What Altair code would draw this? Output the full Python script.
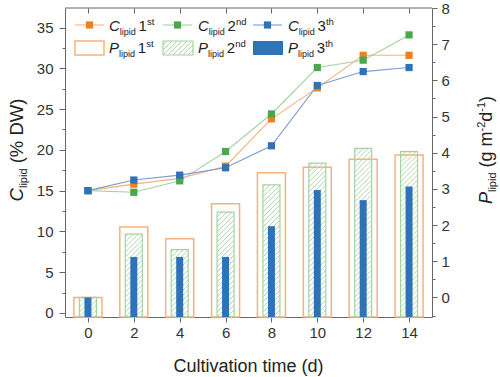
import altair as alt
import pandas as pd

# ---------------- data ----------------
days = [0, 2, 4, 6, 8, 10, 12, 14]
c_lipid_1st = [15.0, 15.8, 16.5, 18.0, 23.8, 27.6, 31.6, 31.6]
c_lipid_2nd = [15.0, 14.8, 16.2, 19.8, 24.4, 30.1, 31.0, 34.1]
c_lipid_3th = [15.0, 16.3, 16.9, 17.8, 20.5, 27.9, 29.6, 30.1]
p_lipid_1st = [0.0, 1.95, 1.62, 2.59, 3.45, 3.60, 3.82, 3.94]
p_lipid_2nd = [0.0, 1.75, 1.32, 2.36, 3.11, 3.71, 4.12, 4.03]
p_lipid_3th = [0.0, 1.12, 1.12, 1.12, 1.97, 2.97, 2.69, 3.07]
x_tick_values = [0, 2, 4, 6, 8, 10, 12, 14]
left_major_ticks = [0, 5, 10, 15, 20, 25, 30, 35]
left_minor_ticks = [2.5, 7.5, 12.5, 17.5, 22.5, 27.5, 32.5]
right_major_ticks = [0, 1, 2, 3, 4, 5, 6, 7, 8]
right_minor_ticks = [-0.5, 0.5, 1.5, 2.5, 3.5, 4.5, 5.5, 6.5, 7.5]

df = pd.DataFrame({
    "day": days,
    "C1": c_lipid_1st, "C2": c_lipid_2nd, "C3": c_lipid_3th,
    "P1": p_lipid_1st, "P2": p_lipid_2nd, "P3": p_lipid_3th,
})
one = pd.DataFrame({"v": [0]})

# ---------------- layout / style ----------------
W, H = 367, 309
PL, PT = 65, 8
X_DOM = [-1, 15]
YL_DOM = [-0.5, 37.4]
YR_DOM = [-0.54, 8.0]
SX = W / (X_DOM[1] - X_DOM[0])
SY = H / (YR_DOM[1] - YR_DOM[0])

FONT = "Liberation Sans"
AX = "#666666"
LBL = "#333333"
TTL = "#222222"
ORANGE, ORANGE_L = "#f07f22", "#f6b27c"
GREEN, GREEN_L = "#4aa84a", "#a3d4a0"
BLUE, BLUE_L = "#2e72b8", "#7d9ccb"

BW1, BW2, BW3 = 28, 17, 7
HATCH_STEP = 5

xs = alt.Scale(domain=X_DOM, nice=False, zero=False, padding=0)
yls = alt.Scale(domain=YL_DOM, nice=False, zero=False, padding=0)
yrs = alt.Scale(domain=YR_DOM, nice=False, zero=False, padding=0)

# ---------------- axes ----------------
x_bottom_axis = alt.Axis(orient="bottom", values=x_tick_values, title=None, grid=False,
                         tickSize=5, tickColor=AX, domainColor=AX, labelFontSize=15,
                         labelFont=FONT, labelColor=LBL, labelPadding=3, labelFlush=False)
x_top_axis = alt.Axis(orient="top", values=x_tick_values, title=None, grid=False, labels=False,
                      domain=False, tickSize=5, tickColor=AX, offset=-5)
y_right_axis = alt.Axis(orient="right", values=right_major_ticks, title=None, grid=False,
                        tickSize=5, tickColor=AX, domainColor=AX, labelFontSize=15,
                        labelFont=FONT, labelColor=LBL, labelPadding=4)
y_left_axis = alt.Axis(orient="left", values=left_major_ticks, title=None, grid=False,
                       tickSize=6, tickColor=AX, domainColor=AX, labelFontSize=15,
                       labelFont=FONT, labelColor=LBL, labelPadding=6)
y_left_minor = alt.Axis(orient="left", values=left_minor_ticks, labels=False, domain=False,
                        grid=False, title=None, tickSize=3, tickColor=AX)
y_right_minor = alt.Axis(orient="right", values=right_minor_ticks, labels=False, domain=False,
                         grid=False, title=None, tickSize=3, tickColor=AX)

# ---------------- bars (P_lipid, right axis) ----------------
bar1 = alt.Chart(df).mark_bar(size=BW1, filled=False, stroke=ORANGE_L, strokeWidth=1.5,
                              orient="vertical").encode(
    x=alt.X("day:Q", scale=xs, axis=x_bottom_axis),
    y=alt.Y("P1:Q", scale=yrs, axis=y_right_axis, stack=None),
    y2=alt.value(H),
)
bar2 = alt.Chart(df).mark_bar(size=BW2, filled=False, stroke=GREEN_L, strokeWidth=1.2,
                              orient="vertical").encode(
    x=alt.X("day:Q", scale=xs, axis=None),
    y=alt.Y("P2:Q", scale=yrs, axis=y_right_minor, stack=None),
    y2=alt.value(H),
)
hatch = alt.Chart(df).transform_calculate(
    hb=f"(datum.P2 - ({YR_DOM[0]})) * {SY}",
    ks=f"sequence({-(BW2 // HATCH_STEP) - 2}, ceil(datum.hb / {HATCH_STEP}) + 1)",
).transform_flatten(["ks"], as_=["k"]).transform_calculate(
    h0=f"datum.k * {HATCH_STEP}",
).transform_calculate(
    a0="max(0, -datum.h0)",
    a1=f"min({BW2}, datum.hb - datum.h0)",
).transform_filter("datum.a1 > datum.a0 + 0.3").transform_calculate(
    hx1=f"datum.day + ({-BW2 / 2} + datum.a0) / {SX}",
    hx2=f"datum.day + ({-BW2 / 2} + datum.a1) / {SX}",
    hy1=f"({YR_DOM[0]}) + (datum.h0 + datum.a0) / {SY}",
    hy2=f"({YR_DOM[0]}) + (datum.h0 + datum.a1) / {SY}",
).mark_rule(color=GREEN_L, strokeWidth=0.9).encode(
    x=alt.X("hx1:Q", scale=xs, axis=None),
    x2="hx2:Q",
    y=alt.Y("hy1:Q", scale=yrs, axis=None),
    y2="hy2:Q",
)
bar3 = alt.Chart(df).mark_bar(size=BW3, color=BLUE, orient="vertical").encode(
    x=alt.X("day:Q", scale=xs, axis=None),
    y=alt.Y("P3:Q", scale=yrs, axis=None, stack=None),
    y2=alt.value(H),
)

# ---------------- lines (C_lipid, left axis) ----------------
def series(col, line_color, pt_color, xa=None, ya=None):
    ln = alt.Chart(df).mark_line(color=line_color, strokeWidth=1.1).encode(
        x=alt.X("day:Q", scale=xs, axis=xa),
        y=alt.Y(f"{col}:Q", scale=yls, axis=ya),
    )
    pt = alt.Chart(df).mark_point(shape="square", filled=True, size=52, color=pt_color,
                                  opacity=1).encode(
        x=alt.X("day:Q", scale=xs, axis=None),
        y=alt.Y(f"{col}:Q", scale=yls, axis=None),
    )
    return [ln, pt]

lines = (series("C1", ORANGE_L, ORANGE, xa=x_top_axis, ya=y_left_axis)
         + series("C2", GREEN_L, GREEN, ya=y_left_minor)
         + series("C3", BLUE_L, BLUE))

# ---------------- text helpers (titles, legend) ----------------
CW = {" ": 278, "(": 333, ")": 333, "%": 889, "-": 333, "C": 722, "D": 722, "W": 944,
      "P": 667, "a": 556, "d": 556, "g": 556, "h": 556, "i": 222, "l": 222, "m": 833,
      "n": 556, "p": 556, "s": 500, "t": 278, "e": 556, "u": 556, "v": 500, "o": 556}

def tw(s, size):
    return sum(CW.get(c, 556) for c in s) * size / 1000.0

def piece(s, x, y, size, italic=False, angle=0, color=TTL, align="left"):
    kw = dict(text=s, align=align, baseline="alphabetic", fontSize=size, font=FONT, color=color)
    if italic:
        kw["fontStyle"] = "italic"
    if angle:
        kw["angle"] = angle
    return alt.Chart(one).mark_text(**kw).encode(x=alt.value(x - PL), y=alt.value(y - PT))

def rich(runs, x0, y0, vertical=False, color=TTL):
    out, adv = [], 0.0
    for s, size, italic, shift in runs:
        lead = len(s) - len(s.lstrip(" "))
        adv += tw(" " * lead, size)
        body = s.lstrip(" ")
        if body:
            if vertical:
                out.append(piece(body, x0 + shift, y0 - adv, size, italic, angle=270, color=color))
            else:
                out.append(piece(body, x0 + adv, y0 + shift, size, italic, color=color))
        adv += tw(body, size)
    return out

def runs_width(runs):
    return sum(tw(s, size) for s, size, _, _ in runs)

def seg(x1, y1, x2, y2, color, width):
    return alt.Chart(one).mark_rule(color=color, strokeWidth=width).encode(
        x=alt.value(x1 - PL), x2=alt.value(x2 - PL), y=alt.value(y1 - PT), y2=alt.value(y2 - PT))

def box(x1, y1, x2, y2, **kw):
    return alt.Chart(one).mark_rect(**kw).encode(
        x=alt.value(x1 - PL), x2=alt.value(x2 - PL), y=alt.value(y1 - PT), y2=alt.value(y2 - PT))

def sq(x, y, color):
    return alt.Chart(one).mark_point(shape="square", filled=True, size=52, color=color, opacity=1).encode(
        x=alt.value(x - PL), y=alt.value(y - PT))

texts = []
texts.append(seg(PL, PT, PL + W, PT, AX, 1))   # top frame line
texts.append(piece("Cultivation time (d)", PL + W / 2, 371.5, 18, align="center"))
lt = [("C", 18.5, True, 0), ("lipid", 11, False, 4), (" (% DW)", 18.5, False, 0)]
texts += rich(lt, 23, 150 + runs_width(lt) / 2, vertical=True)
rt = [("P", 18, True, 0), ("lipid", 11, False, 4), (" (g m", 18, False, 0), ("-2", 11, False, -7),
      ("d", 18, False, 0), ("-1", 11, False, -7), (")", 18, False, 0)]
texts += rich(rt, 492, 150 + runs_width(rt) / 2, vertical=True)

# ---------------- custom legend ----------------
legend = []
entry_x = [75, 163, 253]
text_x = [109, 198, 288]
ords = [("1", "st"), ("2", "nd"), ("3", "th")]
line_cols = [ORANGE_L, GREEN_L, BLUE_L]
pt_cols = [ORANGE, GREEN, BLUE]
R1 = 25
for i in range(3):
    x0 = entry_x[i]
    legend.append(seg(x0, R1, x0 + 29, R1, line_cols[i], 1.1))
    legend.append(sq(x0 + 14.5, R1, pt_cols[i]))
    n, sup = ords[i]
    legend += rich([("C", 15, True, 0), ("lipid", 9, False, 3.5), (" ", 10, False, 0),
                    (n, 15, False, 0), (sup, 9.5, False, -6)], text_x[i], 31)
    legend += rich([("P", 15, True, 0), ("lipid", 9, False, 3.5), (" ", 10, False, 0),
                    (n, 15, False, 0), (sup, 9.5, False, -6)], text_x[i], 53)

legend.append(box(entry_x[0], 41, entry_x[0] + 29, 55, fill="white", fillOpacity=0,
                  stroke=ORANGE_L, strokeWidth=1.5))
gx0, gx1 = entry_x[1], entry_x[1] + 30
gy0, gy1 = 41, 55
hgt = gy1 - gy0
for k in range(-8, 4):
    h0 = k * HATCH_STEP
    a0 = max(0, -h0)
    a1 = min(gx1 - gx0, hgt - h0)
    if a1 > a0 + 0.3:
        legend.append(seg(gx0 + a0, gy1 - (h0 + a0), gx0 + a1, gy1 - (h0 + a1), GREEN_L, 0.9))
legend.append(box(gx0, gy0, gx1, gy1, fill="white", fillOpacity=0, stroke=GREEN_L, strokeWidth=1.2))
legend.append(box(entry_x[2], 41, entry_x[2] + 30, 55, fill=BLUE))

chart = alt.layer(bar1, bar2, hatch, bar3, *lines, *texts, *legend).resolve_scale(
    y="independent"
).properties(
    width=W, height=H,
    autosize=alt.AutoSizeParams(type="none"),
    padding={"left": PL, "top": PT, "right": 500 - PL - W, "bottom": 377 - PT - H},
).configure_view(strokeWidth=0)

chart.save("out.html", embed_options={"renderer": "svg", "actions": False})
